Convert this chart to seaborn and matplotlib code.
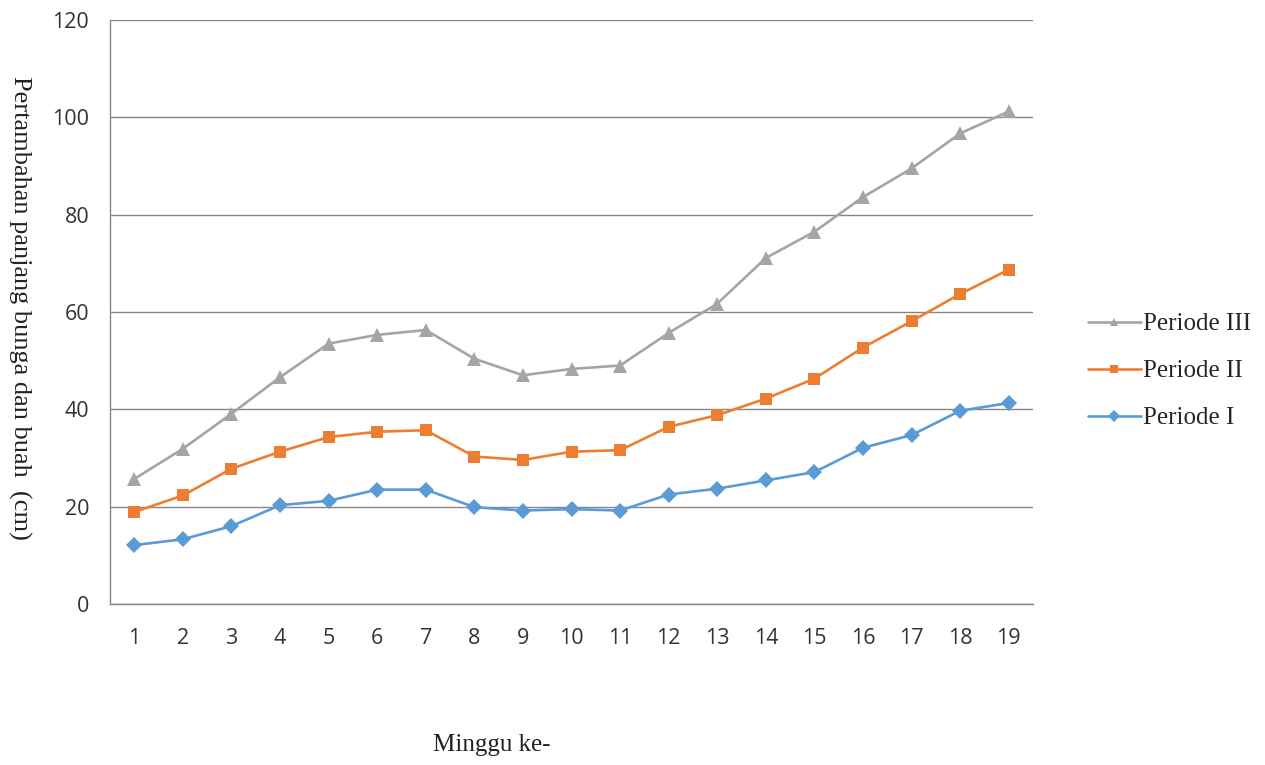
import numpy as np
import pandas as pd
import seaborn as sns
import matplotlib.pyplot as plt
from matplotlib.ticker import FixedLocator, NullFormatter

weeks = list(range(1, 20))
periode_1 = [12.1, 13.3, 16.0, 20.3, 21.2, 23.5, 23.5, 19.9, 19.2, 19.5,
             19.2, 22.5, 23.7, 25.4, 27.1, 32.1, 34.7, 39.7, 41.3]
periode_2 = [18.9, 22.3, 27.8, 31.3, 34.3, 35.4, 35.7, 30.3, 29.6, 31.3,
             31.6, 36.4, 38.8, 42.2, 46.3, 52.7, 58.1, 63.7, 68.7]
periode_3 = [25.7, 31.9, 39.1, 46.6, 53.5, 55.3, 56.3, 50.4, 47.0, 48.3,
             49.0, 55.7, 61.7, 71.1, 76.5, 83.6, 89.5, 96.7, 101.2]
series_names = ["Periode III", "Periode II", "Periode I"]
y_ticks = [0, 20, 40, 60, 80, 100, 120]

df = pd.DataFrame({
    "Minggu": weeks * 3,
    "Nilai": periode_3 + periode_2 + periode_1,
    "Periode": ["Periode III"] * 19 + ["Periode II"] * 19 + ["Periode I"] * 19,
})

palette = {"Periode III": "#A5A5A5", "Periode II": "#ED7D31", "Periode I": "#5B9BD5"}
markers = {"Periode III": "^", "Periode II": "s", "Periode I": "D"}
msize = {"Periode III": 10, "Periode II": 8.5, "Periode I": 8}

sns.set_style("white")
plt.rcParams["font.family"] = ["Open Sans", "DejaVu Sans"]

fig = plt.figure(figsize=(12.65, 7.65), dpi=100)
ax = fig.add_axes([110 / 1265, 1 - 604 / 765, 923 / 1265, 584 / 765])

# one lineplot call per series so each keeps its own marker and size
for name in series_names:
    sub = df[df["Periode"] == name]
    sns.lineplot(data=sub, x="Minggu", y="Nilai", ax=ax, color=palette[name],
                 marker=markers[name], markersize=msize[name], linewidth=1.9,
                 markeredgewidth=0, label=name, zorder=3)

ax.set_xlim(0.5, 19.5)
ax.set_ylim(0, 120)
ax.set_yticks(y_ticks)
ax.set_yticklabels([str(v) for v in y_ticks], fontsize=15.5, color="#333333")
ax.set_xticks(weeks)
ax.set_xticklabels([str(w) for w in weeks], fontsize=15.5, color="#333333")
ax.xaxis.set_minor_locator(FixedLocator(np.arange(0.5, 20, 1)))
ax.xaxis.set_minor_formatter(NullFormatter())
ax.tick_params(axis="x", which="major", length=0, pad=17)
ax.tick_params(axis="x", which="minor", length=7, width=1, color="#868686", direction="out")
ax.tick_params(axis="y", which="major", length=7, width=1, color="#868686", direction="out", pad=8)

ax.grid(axis="y", color="#868686", linewidth=1)
ax.set_axisbelow(True)
for side in ["top", "right"]:
    ax.spines[side].set_visible(False)
for side in ["left", "bottom"]:
    ax.spines[side].set_color("#868686")
    ax.spines[side].set_linewidth(1)

ax.set_xlabel("")
ax.set_ylabel("")
fig.text(492 / 1265, 1 - 745 / 765, "Minggu ke-", ha="center", va="center",
         fontsize=18, family="Liberation Serif", color="#222222")
fig.text(20 / 1265, 1 - 308 / 765, "Pertambahan panjang bunga dan buah  (cm)",
         ha="center", va="center", rotation=-90, fontsize=19,
         family="Liberation Serif", color="#222222")

handles, labels = ax.get_legend_handles_labels()
leg = ax.legend(handles, labels, loc="center left", bbox_to_anchor=(1078 / 1265, 1 - 371 / 765),
                bbox_transform=fig.transFigure, frameon=False, handlelength=2.1,
                handletextpad=0.1, labelspacing=0.98, borderaxespad=0,
                prop={"family": "Liberation Serif", "size": 18})
for h in leg.legend_handles:
    h.set_markersize(6)

fig.savefig("out.png", dpi=100)
